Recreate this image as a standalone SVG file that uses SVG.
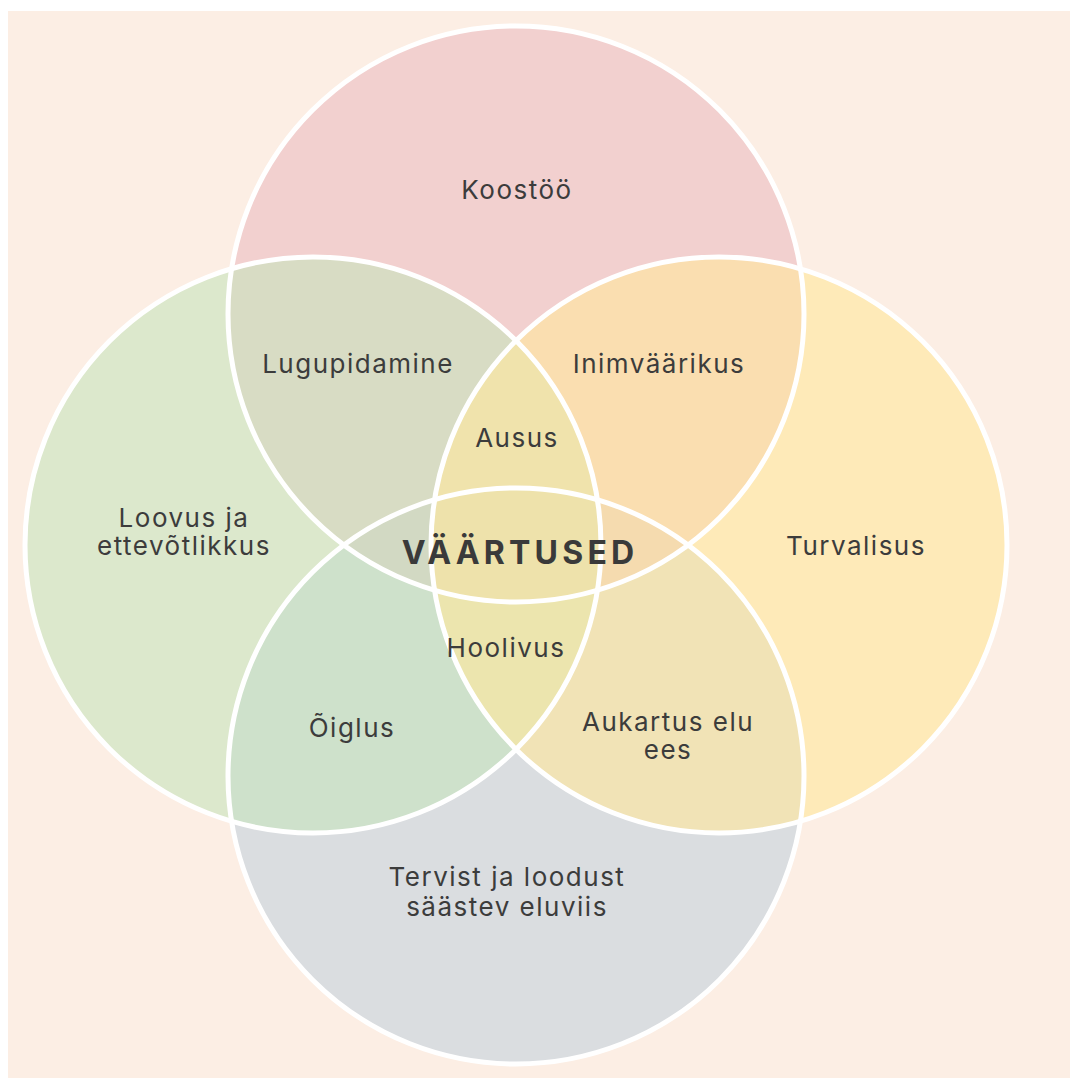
<svg xmlns="http://www.w3.org/2000/svg" width="1070" height="1080" viewBox="0 0 1070 1080">
<style>
.lbl{font-family:Inter,"Liberation Sans",sans-serif;font-size:26px;fill:#3c3c3c;text-anchor:middle;letter-spacing:1.5px}
.title{font-family:Inter,"Liberation Sans",sans-serif;font-size:32px;font-weight:700;fill:#3a3a3a;text-anchor:middle;letter-spacing:4.2px}
.ring{fill:none;stroke:#ffffff;stroke-width:5}
</style>
<rect x="0" y="0" width="1070" height="1080" fill="#ffffff"/>
<rect x="8" y="11" width="1062" height="1067" fill="#fceee4"/>
<g id="fills">
<circle cx="516" cy="776" r="288" fill="#c3d2dd" fill-opacity="0.6"/>
<circle cx="516" cy="314" r="288" fill="#ebbcc1" fill-opacity="0.6"/>
<circle cx="313" cy="545" r="288" fill="#c7e4bc" fill-opacity="0.6"/>
<circle cx="719" cy="545" r="288" fill="#ffe79c" fill-opacity="0.62"/>
</g>
<g id="node-top"><circle class="ring" cx="516" cy="314" r="288"/><text class="lbl" x="517" y="199">Koostöö</text></g>
<g id="node-left"><circle class="ring" cx="313" cy="545" r="288"/><text class="lbl" x="184" y="527">Loovus ja</text><text class="lbl" x="184" y="555">ettevõtlikkus</text></g>
<g id="node-right"><circle class="ring" cx="719" cy="545" r="288"/><text class="lbl" x="856" y="555">Turvalisus</text></g>
<g id="node-bottom"><circle class="ring" cx="516" cy="776" r="288"/><text class="lbl" x="507" y="886">Tervist ja loodust</text><text class="lbl" x="507" y="916">säästev eluviis</text></g>
<g id="node-lugupidamine"><text class="lbl" x="358" y="373">Lugupidamine</text></g>
<g id="node-inimvaarikus"><text class="lbl" x="659" y="373">Inimväärikus</text></g>
<g id="node-ausus"><text class="lbl" x="517" y="447">Ausus</text></g>
<g id="node-vaartused"><text class="title" x="520" y="564">VÄÄRTUSED</text></g>
<g id="node-hoolivus"><text class="lbl" x="506" y="657">Hoolivus</text></g>
<g id="node-oiglus"><text class="lbl" x="352" y="737">Õiglus</text></g>
<g id="node-aukartus"><text class="lbl" x="668" y="731">Aukartus elu</text><text class="lbl" x="668" y="759">ees</text></g>
<g id="connectors"></g>
</svg>
